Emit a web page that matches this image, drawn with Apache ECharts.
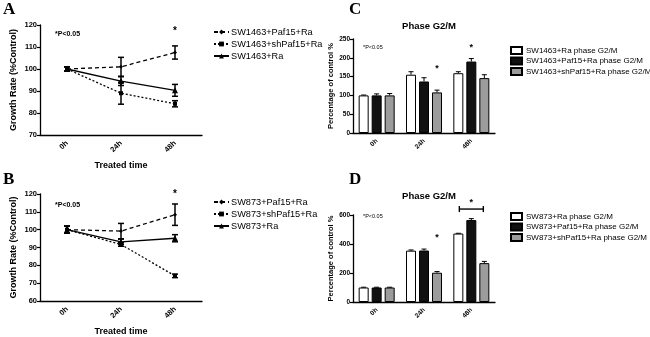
<!DOCTYPE html>
<html><head><meta charset="utf-8">
<script src="https://cdn.jsdelivr.net/npm/echarts@6/dist/echarts.min.js"></script>
<style>html,body{margin:0;padding:0;background:#fff}#c{width:650px;height:337px}</style>
</head><body><div id="c"></div>
<script>
// ---- data ----
var timeCats = ['0h', '24h', '48h'];
// Panel A (SW1463 growth)
var aNames = ['SW1463+Paf15+Ra', 'SW1463+shPaf15+Ra', 'SW1463+Ra'];
var aPaf15 = [100, 101, 107.5];
var aPaf15Err = [1, 4.3, 3];
var aShPaf15 = [100, 89, 84.2];
var aShPaf15Err = [1, 5, 1.4];
var aRa = [100, 94.5, 90.3];
var aRaErr = [1, 2, 2.7];
// Panel B (SW873 growth)
var bNames = ['SW873+Paf15+Ra', 'SW873+shPaf15+Ra', 'SW873+Ra'];
var bPaf15 = [100, 99.2, 108.4];
var bPaf15Err = [2, 4.3, 6];
var bShPaf15 = [100, 91.7, 74.1];
var bShPaf15Err = [2, 1, 1];
var bRa = [100, 93.2, 95.2];
var bRaErr = [2, 1.5, 2];
// Panel C (SW1463 G2/M)
var cNames = ['SW1463+Ra phase G2/M', 'SW1463+Paf15+Ra phase G2/M', 'SW1463+shPaf15+Ra phase G2/M'];
var cRa = [100, 155, 159];
var cRaErr = [1, 8, 4];
var cPaf15 = [100, 137, 190];
var cPaf15Err = [4, 10, 8];
var cShPaf15 = [100, 108, 146];
var cShPaf15Err = [5, 6, 9];
// Panel D (SW873 G2/M)
var dNames = ['SW873+Ra phase G2/M', 'SW873+Paf15+Ra phase G2/M', 'SW873+shPaf15+Ra phase G2/M'];
var dRa = [100, 354, 472];
var dRaErr = [2, 5, 2];
var dPaf15 = [100, 355, 565];
var dPaf15Err = [2, 10, 10];
var dShPaf15 = [100, 202, 268];
var dShPaf15Err = [2, 8, 12];
// significance stars: [category index, y value, bar slot (-1,0,1) or 0]
var aStars = [[2, 117.3, 0]];
var bStars = [[2, 119.8, 0]];
var cStars = [[1, 172, 1], [2, 228, 0]];
var dStars = [[1, 445, 1], [2, 683, 0]];
var dBracket = [[2, 641]];

// ---- helpers ----
var FONT = 'Liberation Sans, Arial, sans-serif';
var BLACK = '#000';
var GRAY = '#9c9c9c';
var SLOT = 13; // px between bar centers

function lineErr(gi, vals, errs) {
  return {
    type: 'custom', xAxisIndex: gi, yAxisIndex: gi, silent: true, z: 4,
    data: vals.map(function (v, i) { return [i, v, errs[i]]; }),
    renderItem: function (p, api) {
      var x = api.value(0), y = api.value(1), e = api.value(2);
      var t = api.coord([x, y + e]), b = api.coord([x, y - e]);
      var s = {stroke: BLACK, lineWidth: 1.5};
      return {type: 'group', children: [
        {type: 'line', shape: {x1: t[0], y1: t[1], x2: b[0], y2: b[1]}, style: s},
        {type: 'line', shape: {x1: t[0] - 3, y1: t[1], x2: t[0] + 3, y2: t[1]}, style: s},
        {type: 'line', shape: {x1: b[0] - 3, y1: b[1], x2: b[0] + 3, y2: b[1]}, style: s}
      ]};
    }
  };
}
function barErr(gi, vals, errs, slot) {
  return {
    type: 'custom', xAxisIndex: gi, yAxisIndex: gi, silent: true, z: 1,
    data: vals.map(function (v, i) { return [i, v, errs[i]]; }),
    renderItem: function (p, api) {
      var x = api.value(0), y = api.value(1), e = api.value(2);
      var t = api.coord([x, y + e]), b = api.coord([x, y]);
      var cx = t[0] + slot * SLOT;
      var s = {stroke: BLACK, lineWidth: 1};
      return {type: 'group', children: [
        {type: 'line', shape: {x1: cx, y1: t[1], x2: cx, y2: b[1]}, style: s},
        {type: 'line', shape: {x1: cx - 2.5, y1: t[1], x2: cx + 2.5, y2: t[1]}, style: s}
      ]};
    }
  };
}
function stars(gi, arr, size) {
  return {
    type: 'custom', xAxisIndex: gi, yAxisIndex: gi, silent: true, z: 5,
    data: arr,
    renderItem: function (p, api) {
      var c = api.coord([api.value(0), api.value(1)]);
      return {type: 'text', style: {text: '*', x: c[0] + api.value(2) * SLOT, y: c[1],
        fill: BLACK, font: 'bold ' + size + 'px ' + FONT, align: 'center', verticalAlign: 'middle'}};
    }
  };
}
function bracket(gi, arr) {
  return {
    type: 'custom', xAxisIndex: gi, yAxisIndex: gi, silent: true, z: 5,
    data: arr,
    renderItem: function (p, api) {
      var c = api.coord([api.value(0), api.value(1)]);
      var x1 = c[0] - SLOT + 1, x2 = c[0] + SLOT - 1;
      var s = {stroke: BLACK, lineWidth: 1.4};
      return {type: 'group', children: [
        {type: 'line', shape: {x1: x1, y1: c[1], x2: x2, y2: c[1]}, style: s},
        {type: 'line', shape: {x1: x1, y1: c[1] - 3, x2: x1, y2: c[1] + 3}, style: s},
        {type: 'line', shape: {x1: x2, y1: c[1] - 3, x2: x2, y2: c[1] + 3}, style: s}
      ]};
    }
  };
}
function lineSeries(gi, name, vals, ltype, sym) {
  return {
    type: 'line', name: name, xAxisIndex: gi, yAxisIndex: gi, data: vals,
    symbol: sym, symbolSize: sym === 'triangle' ? 6 : 4, showSymbol: true, z: 3,
    lineStyle: {color: BLACK, width: 1.3, type: ltype},
    itemStyle: {color: BLACK}, silent: true, animation: false
  };
}
function barSeries(gi, name, vals, fill) {
  return {
    type: 'bar', name: name, xAxisIndex: gi, yAxisIndex: gi, data: vals,
    barWidth: 10, barGap: '30%', z: 2,
    itemStyle: {color: fill, borderColor: BLACK, borderWidth: 1}, silent: true
  };
}
function xAx(gi, lblSize, nameTxt) {
  var o = {
    gridIndex: gi, type: 'category', data: timeCats, boundaryGap: true,
    axisLine: {lineStyle: {color: BLACK, width: 1.3}},
    axisTick: {alignWithLabel: true, length: 3, lineStyle: {color: BLACK, width: 1.2}},
    axisLabel: {rotate: 45, fontSize: lblSize, fontWeight: 'bold', color: BLACK, fontFamily: FONT, margin: 7},
    splitLine: {show: false}
  };
  if (nameTxt) {
    o.name = nameTxt; o.nameLocation = 'middle'; o.nameGap = 26;
    o.nameTextStyle = {fontSize: 9, fontWeight: 'bold', color: BLACK, fontFamily: FONT};
  }
  return o;
}
function yAx(gi, min, max, iv, lblSize, nameTxt, nameSize, nameGap) {
  return {
    gridIndex: gi, type: 'value', min: min, max: max, interval: iv,
    axisLine: {show: true, lineStyle: {color: BLACK, width: 1.3}},
    axisTick: {show: true, length: 3, lineStyle: {color: BLACK, width: 1.2}},
    axisLabel: {fontSize: lblSize, fontWeight: 'bold', color: BLACK, fontFamily: FONT, margin: 3},
    splitLine: {show: false},
    name: nameTxt, nameLocation: 'middle', nameGap: nameGap,
    nameTextStyle: {fontSize: nameSize, fontWeight: 'bold', color: BLACK, fontFamily: FONT}
  };
}
function txt(left, top, s, size, weight, family) {
  return {type: 'text', left: left, top: top, silent: true,
    style: {text: s, fill: BLACK, font: (weight || 'bold') + ' ' + size + 'px ' + (family || FONT)}};
}
function lineLegend(names, top) {
  return {data: names, orient: 'vertical', left: 213, top: top, itemGap: 2, padding: 0,
    itemWidth: 15, itemHeight: 6, selectedMode: false,
    textStyle: {fontSize: 9.2, lineHeight: 10, color: BLACK, fontFamily: FONT, padding: [0, 0, 0, -3]}};
}
function barLegend(names, top) {
  return {data: names, orient: 'vertical', left: 510, top: top, itemGap: 1.5, padding: 0,
    itemWidth: 11, itemHeight: 7, selectedMode: false, icon: 'rect',
    textStyle: {fontSize: 8, lineHeight: 9, color: BLACK, fontFamily: FONT, padding: [0, 0, 0, -1]}};
}

var chart = echarts.init(document.getElementById('c'), null, {renderer: 'canvas'});
chart.setOption({
  animation: false,
  backgroundColor: '#fff',
  grid: [
    {left: 40, top: 25, width: 162, height: 110},
    {left: 40, top: 194, width: 162, height: 108},
    {left: 353, top: 39, width: 142, height: 94},
    {left: 353, top: 215, width: 142, height: 87}
  ],
  title: [
    {text: 'Phase G2/M', left: 424, top: 16, textAlign: 'center',
      textStyle: {fontSize: 9.5, fontWeight: 'bold', color: BLACK, fontFamily: FONT}},
    {text: 'Phase G2/M', left: 424, top: 186, textAlign: 'center',
      textStyle: {fontSize: 9.5, fontWeight: 'bold', color: BLACK, fontFamily: FONT}}
  ],
  legend: [
    lineLegend(aNames, 27),
    lineLegend(bNames, 197),
    barLegend(cNames, 46),
    barLegend(dNames, 212)
  ],
  xAxis: [xAx(0, 7.5, 'Treated time'), xAx(1, 7.5, 'Treated time'), xAx(2, 6.5), xAx(3, 6.5)],
  yAxis: [
    yAx(0, 70, 120, 10, 7.5, 'Growth Rate (%Control)', 9, 22),
    yAx(1, 60, 120, 10, 7.5, 'Growth Rate (%Control)', 9, 22),
    yAx(2, 0, 250, 50, 6.5, 'Percentage of control %', 7.5, 18),
    yAx(3, 0, 600, 200, 6.5, 'Percentage of control %', 7.5, 18)
  ],
  graphic: [
    txt(3, 1, 'A', 17, 'bold', 'Liberation Serif, serif'),
    txt(3, 171, 'B', 17, 'bold', 'Liberation Serif, serif'),
    txt(349, 1, 'C', 17, 'bold', 'Liberation Serif, serif'),
    txt(349, 171, 'D', 17, 'bold', 'Liberation Serif, serif'),
    txt(55, 31, '*P<0.05', 7),
    txt(55, 202, '*P<0.05', 7),
    txt(363, 44, '*P<0.05', 5.5, 'normal'),
    txt(363, 213, '*P<0.05', 5.5, 'normal')
  ],
  series: [
    lineSeries(0, aNames[0], aPaf15, [4, 3], 'diamond'),
    lineSeries(0, aNames[1], aShPaf15, [2, 2], 'rect'),
    lineSeries(0, aNames[2], aRa, 'solid', 'triangle'),
    lineErr(0, aPaf15, aPaf15Err), lineErr(0, aShPaf15, aShPaf15Err), lineErr(0, aRa, aRaErr),
    stars(0, aStars, 10),
    lineSeries(1, bNames[0], bPaf15, [4, 3], 'diamond'),
    lineSeries(1, bNames[1], bShPaf15, [2, 2], 'rect'),
    lineSeries(1, bNames[2], bRa, 'solid', 'triangle'),
    lineErr(1, bPaf15, bPaf15Err), lineErr(1, bShPaf15, bShPaf15Err), lineErr(1, bRa, bRaErr),
    stars(1, bStars, 10),
    barSeries(2, cNames[0], cRa, '#fff'),
    barSeries(2, cNames[1], cPaf15, '#111'),
    barSeries(2, cNames[2], cShPaf15, GRAY),
    barErr(2, cRa, cRaErr, -1), barErr(2, cPaf15, cPaf15Err, 0), barErr(2, cShPaf15, cShPaf15Err, 1),
    stars(2, cStars, 9),
    barSeries(3, dNames[0], dRa, '#fff'),
    barSeries(3, dNames[1], dPaf15, '#111'),
    barSeries(3, dNames[2], dShPaf15, GRAY),
    barErr(3, dRa, dRaErr, -1), barErr(3, dPaf15, dPaf15Err, 0), barErr(3, dShPaf15, dShPaf15Err, 1),
    stars(3, dStars, 9),
    bracket(3, dBracket)
  ]
});
</script></body></html>
